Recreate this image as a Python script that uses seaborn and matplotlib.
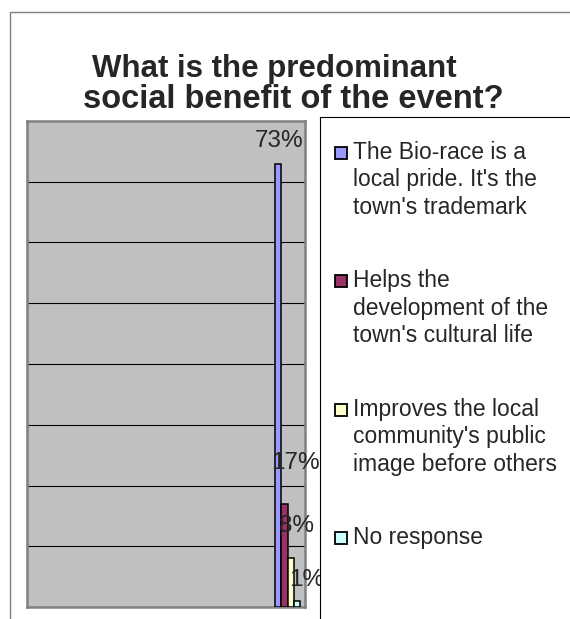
import matplotlib
matplotlib.use("Agg")
import matplotlib.pyplot as plt
import matplotlib.patches as mpatches
import seaborn as sns
import pandas as pd

# Survey answers and their shares
responses = [
    "The Bio-race is a\nlocal pride. It's the\ntown's trademark",
    "Helps the\ndevelopment of the\ntown's cultural life",
    "Improves the local\ncommunity's public\nimage before others",
    "No response",
]
shares = [0.73, 0.17, 0.08, 0.01]
share_labels = ["73%", "17%", "8%", "1%"]
colors = ["#9999FF", "#993366", "#FFFFCC", "#CCFFFF"]
title_lines = ["What is the predominant", "social benefit of the event?"]

sns.set_style("white")
plt.rcParams["font.family"] = ["Liberation Sans", "DejaVu Sans"]

W, H = 570, 619
fig = plt.figure(figsize=(W / 100, H / 100), dpi=100)


def fx(px):
    return px / W


def fy(py):
    return 1 - py / H


# outer chart frame
fig.add_artist(mpatches.Rectangle((fx(10), -0.1), 1.2, fy(12) + 0.1, fill=False,
                                  edgecolor="#808080", lw=1.0, transform=fig.transFigure))

# title
fig.text(fx(274), fy(77), title_lines[0], ha="center", va="baseline",
         fontsize=22.5, fontweight="bold")
fig.text(fx(293), fy(108), title_lines[1], ha="center", va="baseline",
         fontsize=23.5, fontweight="bold")

# plot area
ax = fig.add_axes([fx(27), fy(607), fx(305) - fx(27), fy(121) - fy(607)])
ax.set_zorder(0)
ax.set_facecolor("#C0C0C0")

df = pd.DataFrame({"group": [""] * len(responses), "response": responses, "share": shares})
sns.barplot(data=df, x="group", y="share", hue="response", hue_order=responses,
            palette=colors, edgecolor="black", linewidth=1.1, saturation=1,
            legend=False, ax=ax, zorder=3)

ax.set_ylim(0, 0.8)
ax.set_xlim(-8.34, 0.56)
ax.set_yticks([0.1 * i for i in range(1, 8)])
ax.yaxis.grid(True, color="black", lw=0.8)
ax.xaxis.grid(False)
ax.set_axisbelow(True)
ax.tick_params(left=False, bottom=False, labelleft=False, labelbottom=False)
ax.set_xlabel("")
ax.set_ylabel("")
for sp in ax.spines.values():
    sp.set_color("#808080")
    sp.set_linewidth(1.8)

# value labels above each bar (pixel offsets from bar top)
label_offsets = [(1, 17), (11, 35), (6, 26), (10, 15)]
for cont, lab, (dx, dy) in zip(ax.containers, share_labels, label_offsets):
    bar = cont.patches[0]
    xc = bar.get_x() + bar.get_width() / 2
    ax.annotate(lab, (xc, bar.get_height()), xytext=(dx * 0.72, dy * 0.72),
                textcoords="offset points", ha="center", va="baseline",
                fontsize=17.5, annotation_clip=False, clip_on=False)

# legend box
lx0, ly0 = 320, 117
leg = fig.add_axes([fx(lx0), -0.05, 0.6, fy(ly0) + 0.05])
leg.set_zorder(1)
leg.set_facecolor("white")
leg.set_xlim(lx0, lx0 + 0.6 * W)
leg.set_ylim(H + 0.05 * H, ly0)
leg.set_xticks([])
leg.set_yticks([])
for sp in leg.spines.values():
    sp.set_color("black")
    sp.set_linewidth(0.8)

first_baseline, step, pitch = 159, 128.5, 27.5
for i, (lab, col) in enumerate(zip(responses, colors)):
    base = first_baseline + i * step
    n_lines = lab.count("\n") + 1
    leg.add_patch(mpatches.Rectangle((335, base - 12), 12, 12, facecolor=col,
                                     edgecolor="black", lw=1.3))
    # multi-line text is anchored on its last baseline
    leg.text(353, base + (n_lines - 1) * pitch, lab, ha="left", va="baseline",
             fontsize=16.5, linespacing=1.26)

fig.savefig("out.png", dpi=100)
